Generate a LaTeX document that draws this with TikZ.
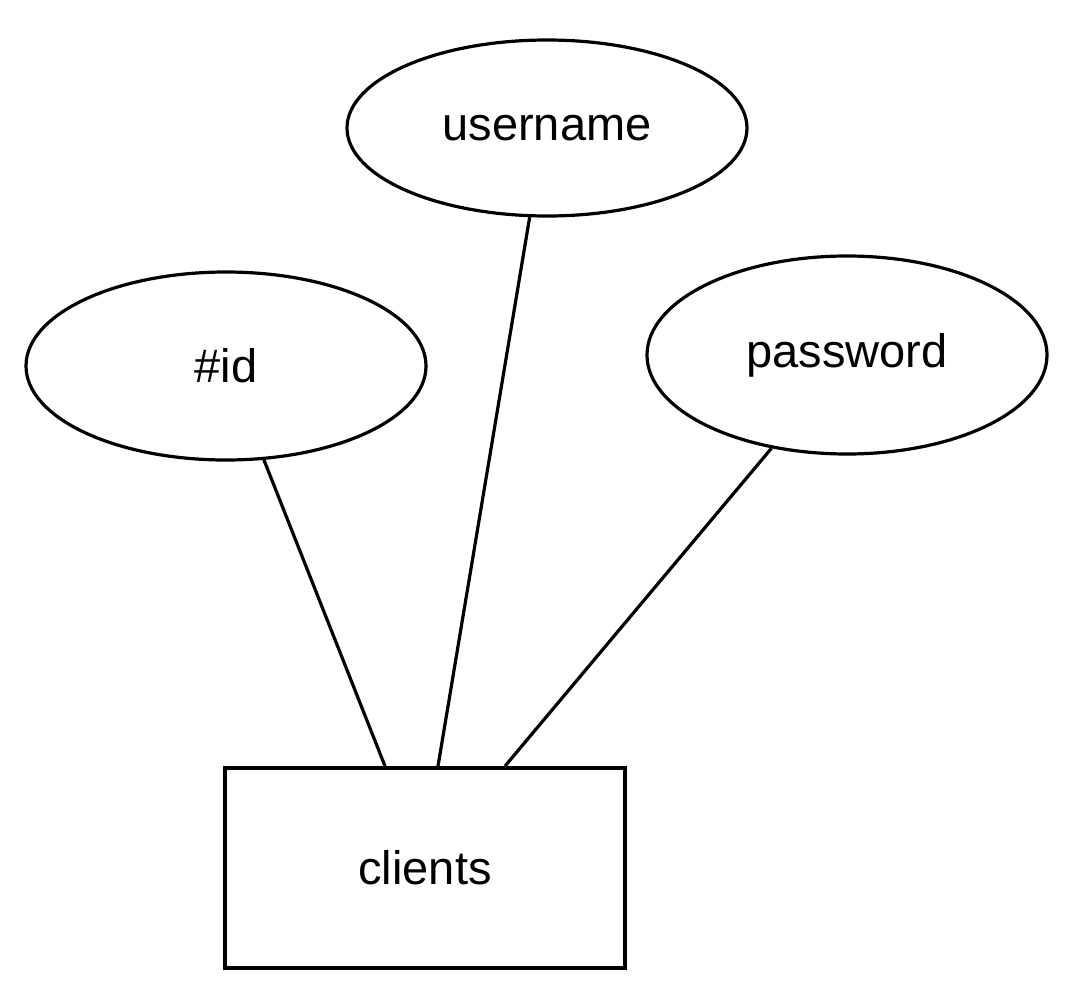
\documentclass[tikz,border=0pt]{standalone}
\usepackage{fontspec}
\setmainfont{Liberation Sans}
\usetikzlibrary{shapes.geometric,calc}
\begin{document}
\begin{tikzpicture}[x=1pt,y=-1pt,
  attr/.style={draw,ellipse,line width=3.2pt,minimum width=400pt,minimum height=176pt,inner sep=0pt,font=\fontsize{47}{56}\selectfont},
  entity/.style={draw,rectangle,line width=3.8pt,minimum width=400pt,minimum height=200pt,inner sep=0pt,font=\fontsize{47}{56}\selectfont},
  link/.style={line width=3.2pt}]
\useasboundingbox (0,0) rectangle (1076,996);
\node[attr] (username) at (547,128) {username};
\node[attr,minimum height=188pt] (id) at (226,366) {\#id};
\node[attr,minimum height=198pt] (password) at (847,355) {password};
\node[entity] (clients) at (425,868) {clients};
\coordinate (c1) at ($(clients.north)+(-40,0)$);
\coordinate (c2) at ($(clients.north)+(13,0)$);
\coordinate (c3) at ($(clients.north)+(80,0)$);
\draw[link] (id.-68.5) -- (c1);
\draw[link] (username.-101) -- (c2);
\draw[link] (password.-129.6) -- (c3);
\end{tikzpicture}
\end{document}
